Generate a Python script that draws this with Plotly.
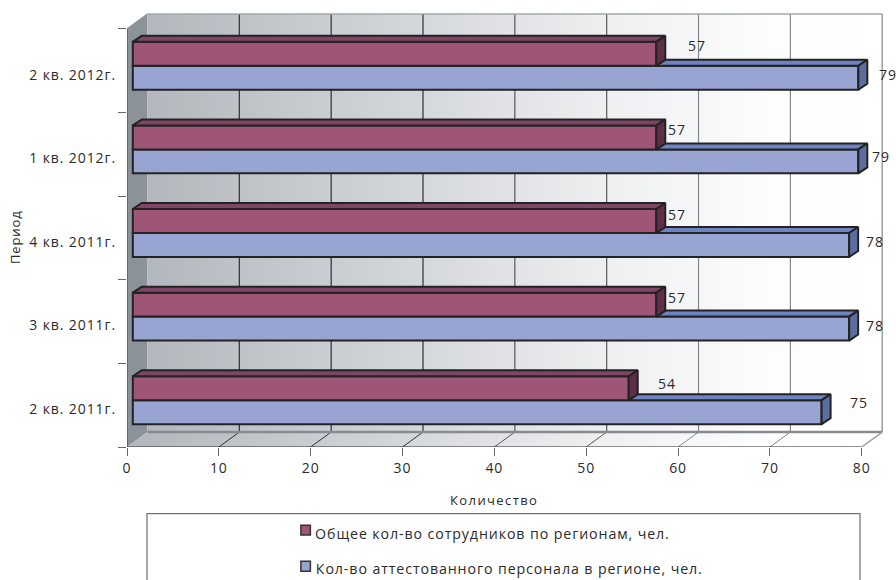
import plotly.graph_objects as go

categories = ["2 кв. 2011г.", "3 кв. 2011г.", "4 кв. 2011г.", "1 кв. 2012г.", "2 кв. 2012г."]
total_staff = [54, 57, 57, 57, 57]
certified_staff = [75, 78, 78, 79, 79]
series_names = ["Общее кол-во сотрудников по регионам, чел.", "Кол-во аттестованного персонала в регионе, чел."]
x_ticks = [0, 10, 20, 30, 40, 50, 60, 70, 80]
x_title = "Количество"
y_title = "Период"
total_label_dx = [38, 21, 21, 21, 41]
total_label_dy = [22, 24, 23, 25, 25]
cert_label_dx = [37, 26, 26, 23, 30]
cert_label_dy = [3, -4, -4, -2, -4]

FONT = "Open Sans"
TEXT = "#2b2b2b"
PX = 9.19
PY = 83.7
L, TOP, BOT, R = 126.5, 10.0, 447.4, 885.0
X_MAX = (R - L) / PX
Y_MAX = 4.5 + (29.0 - TOP) / PY
DX, DY = 20.5 / PX, 15 / PY      # depth of the wall box
BX, BY = 9 / PX, 6 / PY          # depth of a bar
BAR0 = 5.8 / PX                  # bars stand slightly off the side wall
BAR_W = 24 / PY
BAR_SHIFT = 5 / PY
Y0 = -0.5
positions = list(range(len(categories)))


def lerp(a, b, t):
    return tuple(a[i] + (b[i] - a[i]) * t for i in range(3))


def wall_colour(t):
    stops = [(0.0, (180, 184, 190)), (0.25, (202, 205, 209)), (0.5, (226, 228, 231)),
             (0.65, (240, 241, 243)), (0.85, (253, 253, 253)), (1.0, (255, 255, 255))]
    for (t0, c0), (t1, c1) in zip(stops, stops[1:]):
        if t <= t1:
            c = lerp(c0, c1, (t - t0) / (t1 - t0))
            return "rgb(%d,%d,%d)" % tuple(round(v) for v in c)
    return "rgb(255,255,255)"


shapes = []


def poly(pts, fill, line=None, width=0, layer="below"):
    path = "M" + "L".join(f"{x},{y}" for x, y in pts) + "Z"
    shapes.append(dict(type="path", path=path, xref="x", yref="y", fillcolor=fill,
                       line=dict(color=line or fill, width=width), layer=layer))


def seg(x0, y0, x1, y1, colour, width=1, layer="below"):
    shapes.append(dict(type="line", x0=x0, y0=y0, x1=x1, y1=y1, xref="x", yref="y",
                       line=dict(color=colour, width=width), layer=layer))


# side wall
poly([(0, 4.5), (DX, 4.5 + DY), (DX, Y0 + DY), (0, Y0)], "#8b9299")
# back wall and floor gradient
N = 90
span = 80.0
for i in range(N):
    a = i / N
    b = min((i + 1) / N + 0.002, 1)
    col = wall_colour(a)
    poly([(DX + span * a, Y0 + DY), (DX + span * b, Y0 + DY),
          (DX + span * b, 4.5 + DY), (DX + span * a, 4.5 + DY)], col)
    poly([(span * a + DX, Y0 + DY), (span * b + DX, Y0 + DY),
          (span * b, Y0), (span * a, Y0)], col)
# grid lines
for v in x_ticks[1:8]:
    c = "#2f3033" if v <= 30 else ("#55575a" if v <= 50 else "#85888b")
    seg(v + DX, Y0 + DY, v + DX, 4.5 + DY, c, 1.2)
    seg(v, Y0, v + DX, Y0 + DY, c, 1)
# box edges
seg(DX, 4.5 + DY, 80 + DX, 4.5 + DY, "#a3a8ad", 1.5)
seg(80 + DX, 4.5 + DY, 80 + DX, Y0 + DY, "#9aa0a5", 1.5)
seg(DX, Y0 + DY, 80 + DX, Y0 + DY, "#878b90", 2.5)
seg(80, Y0, 80 + DX, Y0 + DY, "#9aa0a5", 1.5)
seg(0, 4.5, DX, 4.5 + DY, "#8b8f94", 1.2)
seg(0, Y0, 0, 4.5, "#55595d", 1.5)
seg(0, Y0, 80, Y0, "#2b2b2b", 1.2)


def face(xs_pts, ys_pts, colour):
    return go.Scatter(x=xs_pts, y=ys_pts, mode="lines", fill="toself", fillcolor=colour,
                      line=dict(color="#232323", width=2), hoverinfo="skip", showlegend=False,
                      cliponaxis=False)


def bar_faces(values, y_low, top_col, side_col, starts):
    xs, ys = [], []
    for i, v in enumerate(values):
        yt = i + y_low + BAR_W
        xe = BAR0 + v
        xs0 = starts[i]
        xs += [xs0, xs0 + BX, xe + BX, xe, xs0, None]
        ys += [yt, yt + BY, yt + BY, yt, yt, None]
    top = face(xs, ys, top_col)
    xs, ys = [], []
    for i, v in enumerate(values):
        yb = i + y_low
        xe = BAR0 + v
        xs += [xe, xe + BX, xe + BX, xe, xe, None]
        ys += [yb, yb + BY, yb + BAR_W + BY, yb + BAR_W, yb, None]
    side = face(xs, ys, side_col)
    return [top, side]


fig = go.Figure()


def front(values, name, colour, offset):
    return go.Bar(y=positions, x=values, base=BAR0, name=name, orientation="h",
                  width=BAR_W, offset=offset,
                  marker=dict(color=colour, line=dict(color="#232323", width=2)),
                  showlegend=False)


blue_low = BAR_SHIFT - BAR_W
pur_low = BAR_SHIFT
fig.add_trace(front(certified_staff, series_names[1], "#98a4d2", blue_low))
fig.add_trace(front(total_staff, series_names[0], "#9e5578", pur_low))
for t in bar_faces(certified_staff, blue_low, "#6e83c3", "#5b6e9f", [BAR0 + v for v in total_staff]):
    fig.add_trace(t)
for t in bar_faces(total_staff, pur_low, "#7e4565", "#5f2e48", [BAR0] * len(total_staff)):
    fig.add_trace(t)

annotations = []


def text(x, y, s, size=14, xref="x", yref="y", **kw):
    annotations.append(dict(x=x, y=y, xref=xref, yref=yref, text=s, showarrow=False,
                            xanchor="center", yanchor="middle",
                            font=dict(family=FONT, size=size, color=TEXT), **kw))


for i, v in enumerate(total_staff):
    text(BAR0 + v, positions[i], str(v), xshift=total_label_dx[i], yshift=total_label_dy[i])
for i, v in enumerate(certified_staff):
    text(BAR0 + v, positions[i], str(v), xshift=cert_label_dx[i], yshift=cert_label_dy[i])

W, H = 896, 580


def px(x):
    return (x - L) / (R - L)


def py(y):
    return (BOT - y) / (BOT - TOP)


text(px(493.5), py(500.5), x_title, size=13, xref="paper", yref="paper")
text(px(14), py(237), y_title, size=13, xref="paper", yref="paper", textangle=-90)
text(px(492.5), py(534), series_names[0], size=14.2, xref="paper", yref="paper")
text(px(509), py(569), series_names[1], size=14.2, xref="paper", yref="paper")

# legend frame and keys
shapes.append(dict(type="path", xref="paper", yref="paper", layer="above",
                   path=f"M{px(146.5)},{py(590)}L{px(146.5)},{py(514)}L{px(860)},{py(514)}L{px(860)},{py(590)}",
                   line=dict(color="#6f6f6f", width=1.2)))
for yc, col in [(530.6, "#9e5578"), (566.7, "#98a4d2")]:
    shapes.append(dict(type="rect", xref="paper", yref="paper", layer="above",
                       x0=px(300.5), x1=px(310), y0=py(yc + 5), y1=py(yc - 5), fillcolor=col,
                       line=dict(color="#333333", width=1.5)))

fig.update_layout(
    width=W, height=H, autosize=False, paper_bgcolor="white", plot_bgcolor="white",
    margin=dict(l=L, r=W - R, t=TOP, b=H - BOT, pad=0),
    showlegend=False, barmode="overlay", shapes=shapes, annotations=annotations,
    font=dict(family=FONT, size=14, color=TEXT),
    xaxis=dict(range=[0, X_MAX], tickvals=x_ticks, ticks="outside", ticklen=8, tickwidth=1, tickcolor="#666666",
               ticklabelstandoff=0,
               showgrid=False, zeroline=False, showline=False, tickfont=dict(family=FONT, size=14, color=TEXT)),
    yaxis=dict(range=[Y0, Y_MAX], tickvals=[p - 4 / PY for p in positions], ticktext=categories, ticks="",
               ticklabelstandoff=10,
               minor=dict(tickvals=[p - 0.5 for p in positions] + [4.5], ticks="outside", ticklen=8,
                          tickwidth=1, tickcolor="#666666", showgrid=False),
               showgrid=False, zeroline=False, showline=False, tickfont=dict(family=FONT, size=14, color=TEXT)),
)
post = """
document.documentElement.style.overflow='hidden';
document.body.style.margin='0';
document.body.style.overflow='hidden';
document.querySelectorAll('svg text').forEach(function(t){
  t.style.letterSpacing = t.textContent === 'Количество' ? '1.4px' : '0.9px';
});
"""
fig.write_html("out.html", config=dict(displayModeBar=False), post_script=post)
